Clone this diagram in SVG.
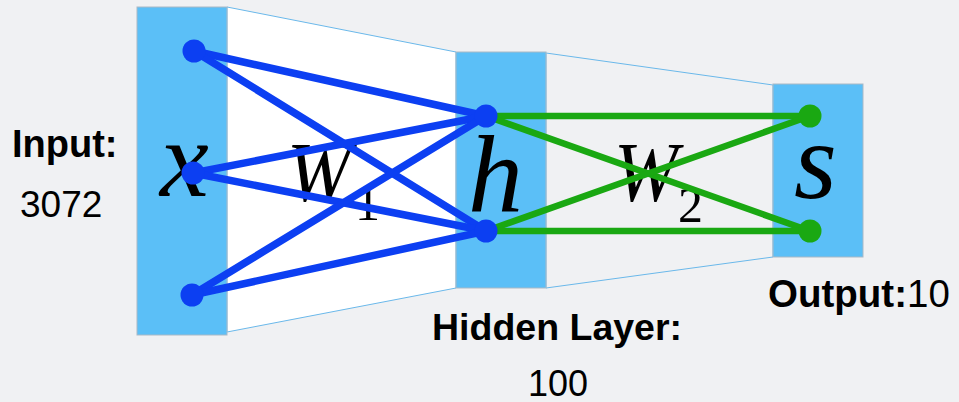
<svg xmlns="http://www.w3.org/2000/svg" width="959" height="402" viewBox="0 0 959 402">
<style>
.bar{fill:#5bbff7;stroke:#a9b9c6;stroke-width:1}
.trap{stroke:#6ab8ea;stroke-width:1}
.b{stroke:#0c3ff2;stroke-width:7.5;stroke-linecap:round}
.g{stroke:#1aa812;stroke-width:6.5;stroke-linecap:round}
.nb{fill:#0c3ff2}
.ng{fill:#1aa812}
.m{font-family:"Liberation Serif",serif;font-style:italic;fill:#000}
.sub{font-family:"Liberation Serif",serif;font-style:normal;fill:#000}
.lb{font-family:"Liberation Sans",Arial,sans-serif;font-weight:bold;fill:#000}
.lr{font-family:"Liberation Sans",Arial,sans-serif;font-weight:normal;fill:#000}
</style>
<rect width="959" height="402" fill="#f0f1f3"/>
<g id="trap1"><polygon class="trap" fill="#ffffff" points="227,7 456,52 456,288 227,332"/></g>
<g id="trap2"><polygon class="trap" fill="#f0f1f3" points="546,53 773,85 773,257 546,288"/></g>
<g id="input-layer"><rect class="bar" x="137" y="7" width="90" height="328"/></g>
<g id="hidden-layer"><rect class="bar" x="456" y="52" width="90" height="236"/></g>
<g id="output-layer"><rect class="bar" x="773" y="84" width="90" height="173"/></g>
<g id="labels-math">
<text class="m" x="160" y="196" font-size="110">x</text>
<text class="m" x="287" y="201" font-size="84" textLength="64" lengthAdjust="spacingAndGlyphs">W</text>
<text class="sub" x="355" y="220" font-size="50">1</text>
<text class="m" x="468" y="212" font-size="110">h</text>
<text class="m" x="614" y="201" font-size="84" textLength="64" lengthAdjust="spacingAndGlyphs">W</text>
<text class="sub" x="678" y="222" font-size="50">2</text>
<text class="m" x="794" y="198" font-size="110">s</text>
</g>
<g id="connectors">
<line class="b" x1="194" y1="51" x2="486" y2="116"/>
<line class="b" x1="194" y1="51" x2="486" y2="231"/>
<line class="b" x1="193" y1="173" x2="486" y2="116"/>
<line class="b" x1="193" y1="173" x2="486" y2="231"/>
<line class="b" x1="192" y1="295" x2="486" y2="116"/>
<line class="b" x1="192" y1="295" x2="486" y2="231"/>
<line class="g" x1="486" y1="116" x2="810" y2="116"/>
<line class="g" x1="486" y1="116" x2="810" y2="231"/>
<line class="g" x1="486" y1="231" x2="810" y2="116"/>
<line class="g" x1="486" y1="231" x2="810" y2="231"/>
</g>
<g id="input-nodes">
<circle class="nb" cx="194" cy="51" r="11.5"/>
<circle class="nb" cx="193" cy="173" r="11.5"/>
<circle class="nb" cx="192" cy="295" r="11.5"/>
</g>
<g id="hidden-nodes">
<circle class="nb" cx="486" cy="116" r="11.5"/>
<circle class="nb" cx="486" cy="231" r="11.5"/>
</g>
<g id="output-nodes">
<circle class="ng" cx="810" cy="116" r="11.5"/>
<circle class="ng" cx="810" cy="231" r="11.5"/>
</g>
<g id="labels">
<text class="lb" x="12" y="157" font-size="38">Input:</text>
<text class="lr" x="20" y="217" font-size="37">3072</text>
<text class="lb" x="432" y="340" font-size="37.5">Hidden Layer:</text>
<text class="lr" x="528" y="396" font-size="36">100</text>
<text x="768" y="307" font-size="38.5"><tspan class="lb">Output:</tspan><tspan class="lr">10</tspan></text>
</g>
</svg>
